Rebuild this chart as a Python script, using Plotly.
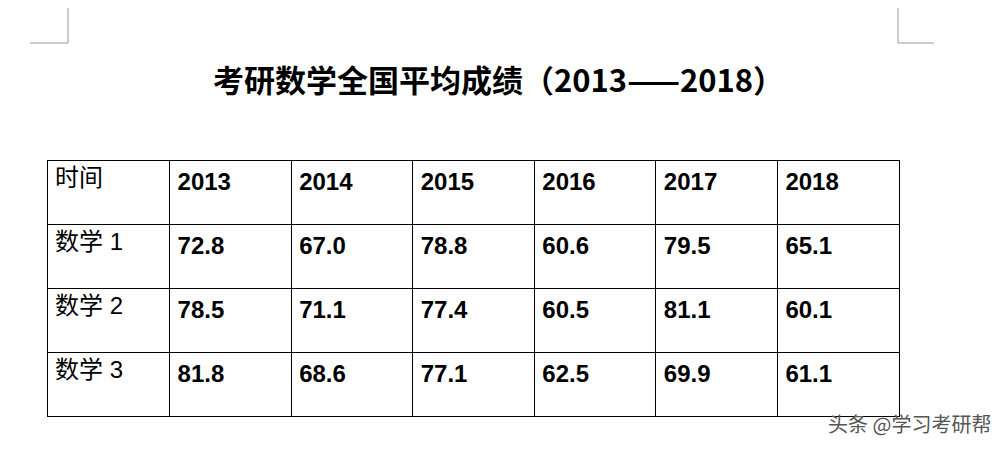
import plotly.graph_objects as go

title = "考研数学全国平均成绩（2013——2018）"
years = ["2013", "2014", "2015", "2016", "2017", "2018"]
row_labels = ["数学 1", "数学 2", "数学 3"]
math1 = ["72.8", "67.0", "78.8", "60.6", "79.5", "65.1"]
math2 = ["78.5", "71.1", "77.4", "60.5", "81.1", "60.1"]
math3 = ["81.8", "68.6", "77.1", "62.5", "69.9", "61.1"]

W, H = 1000, 457
rows = [math1, math2, math3]
cols = [row_labels] + [["<b>%s</b>" % r[i] for r in rows] for i in range(len(years))]
header = ["时间"] + ["<b>%s</b>" % y for y in years]
fam = "Liberation Sans, Noto Sans CJK SC"

fig = go.Figure(go.Table(
    domain=dict(x=[39 / W, 891 / W], y=[1 - 450 / H, 1 - 152 / H]),
    columnwidth=[122] + [121] * 6,
    header=dict(values=header, height=64, align="left",
                fill_color="white", line=dict(color="black", width=1),
                font=dict(family=fam, size=24, color="black")),
    cells=dict(values=cols, height=64, align="left",
               fill_color="white", line=dict(color="black", width=1),
               font=dict(family=fam, size=24, color="black")),
))

# page corner marks
for x0, x1 in [(22, 60), (890, 926)]:
    fig.add_shape(type="line", xref="paper", yref="paper",
                  x0=x0 / W, x1=x1 / W, y0=1 - 35 / H, y1=1 - 35 / H,
                  line=dict(color="#999", width=1))
for x in [60, 890]:
    fig.add_shape(type="line", xref="paper", yref="paper",
                  x0=x / W, x1=x / W, y0=1, y1=1 - 35 / H,
                  line=dict(color="#999", width=1))

fig.add_annotation(text="<b>%s</b>" % title, x=490 / W, y=1 - 70 / H,
                   xref="paper", yref="paper", showarrow=False, yanchor="middle",
                   font=dict(family="Noto Sans CJK SC", size=31, color="black"))
fig.add_annotation(text="头条 @学习考研帮", x=985 / W, y=1 - 432 / H,
                   xref="paper", yref="paper", xanchor="right", showarrow=False,
                   font=dict(family="Noto Sans CJK SC", size=20, color="#555"))

fig.update_layout(width=W, height=H, margin=dict(l=0, r=0, t=0, b=0),
                  paper_bgcolor="white", plot_bgcolor="white")
fig.write_html("out.html")
